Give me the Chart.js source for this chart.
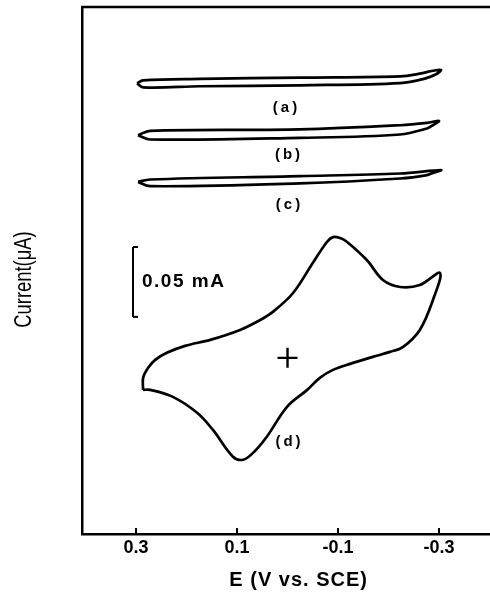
<!DOCTYPE html>
<html><head><meta charset="utf-8">
<script src="https://cdn.jsdelivr.net/npm/chart.js@4/dist/chart.umd.min.js"></script>
<style>html,body{margin:0;padding:0;background:#fff}#wrap{width:490px;height:594px}</style>
</head><body><div id="wrap"><canvas id="c" width="490" height="594"></canvas></div>
<script>
// Potential (V vs. SCE) and current (μA) — curve (d), zero marked by the cross
const potentialD = [0.286,0.286,0.276,0.262,0.239,0.203,0.153,0.094,0.054,0.029,-0.011,-0.050,-0.078,-0.090,-0.104,-0.118,-0.157,-0.189,-0.223,-0.262,-0.302,-0.288,-0.262,-0.229,-0.203,-0.169,-0.124,-0.090,-0.064,-0.039,0.001,0.041,0.068,0.088,0.108,0.148,0.179,0.227,0.272,0.286];
const currentD   = [-22.9,-14.3,-7.1,-1.4,3.6,8.6,12.9,20,27.1,32.9,46.4,67.9,82.9,86.4,85.7,82.9,70,55.7,50.7,52.1,60.7,41.4,20,7.9,4.3,0.7,-4.3,-8.6,-14.3,-22.9,-35,-56.4,-67.9,-72.9,-70.7,-51.4,-39.3,-27.9,-22.9,-22.9];

// Curves (a)-(c): current relative to each trace's own baseline (μA), traces shifted for clarity
const potentialA = [0.298,0.286,0.173,-0.025,-0.223,-0.262,-0.288,-0.304,-0.294,-0.272,-0.223,-0.025,0.173,0.286,0.298];
const currentA   = [0,2.1,3.2,4.1,5.0,6.9,9.0,9.6,6.5,3.4,0.2,-1.4,-2.1,-2.9,0];
const offsetA = 196.4;

const potentialB = [0.296,0.272,-0.025,-0.223,-0.276,-0.300,-0.288,-0.276,-0.223,-0.025,0.272,0.296];
const currentB   = [0,3.1,4.1,7.1,8.8,10.2,7.1,4.8,0.5,-1.9,-3.1,0];
const offsetB = 159.3;

const potentialC = [0.296,0.272,-0.025,-0.223,-0.304,-0.288,-0.276,-0.223,-0.025,0.272,0.296];
const currentC   = [0,1.7,4.1,6.0,8.4,6.4,4.8,2.4,-1.1,-3.1,0];
const offsetC = 125.9;

// Axis ticks and titles
const tickValues = [0.3, 0.1, -0.1, -0.3];
const tickLabels = ['0.3', '0.1', '-0.1', '-0.3'];
const xTitle = 'E (V vs. SCE)';
const yTitle = 'Current(μA)';

// Scale bar: 0.05 mA = 50 μA
const scaleBarLabel = '0.05 mA';
const scaleBarE = 0.306;
const scaleBarFrom = 29.3;
const scaleBarSpan = 50;

// Curve labels, anchored in data coordinates
const curveLabels = ['(a)', '(b)', '(c)', '(d)'];
const curveLabelE = [0.005, 0.0, -0.001, -0.001];
const curveLabelI = [178.6, 145, 109.3, -60];
const xTitleE = -0.022;

function pts(xs, ys, off) { return xs.map((x, i) => ({x: x, y: ys[i] + (off || 0)})); }

const lineStyle = {borderColor: '#000', borderWidth: 2.7, pointRadius: 0, showLine: true, tension: 0.35, fill: false};

const framePlugin = {
  id: 'frameAndLabels',
  afterDraw(chart) {
    const ctx = chart.ctx, a = chart.chartArea, sx = chart.scales.x, sy = chart.scales.y;
    ctx.save();
    ctx.strokeStyle = '#000';
    ctx.lineWidth = 2.5;
    ctx.beginPath();
    ctx.moveTo(a.left - 1, a.top);
    ctx.lineTo(a.right, a.top);
    ctx.stroke();
    ctx.lineWidth = 2;
    tickValues.forEach(v => {
      const px = sx.getPixelForValue(v);
      ctx.beginPath();
      ctx.moveTo(px, a.bottom);
      ctx.lineTo(px, a.bottom - 6);
      ctx.stroke();
    });
    ctx.fillStyle = '#000';
    ctx.textBaseline = 'middle';
    // curve labels
    ctx.font = 'bold 15px "Liberation Sans", Arial, sans-serif';
    ctx.textAlign = 'center';
    try { ctx.letterSpacing = '3px'; } catch (e) {}
    curveLabels.forEach((t, i) => {
      ctx.fillText(t, sx.getPixelForValue(curveLabelE[i]) + 1.5, sy.getPixelForValue(curveLabelI[i]));
    });
    // scale bar label
    try { ctx.letterSpacing = '1.5px'; } catch (e) {}
    ctx.font = 'bold 19px "Liberation Sans", Arial, sans-serif';
    ctx.textAlign = 'left';
    ctx.fillText(scaleBarLabel, sx.getPixelForValue(scaleBarE) + 9, sy.getPixelForValue(scaleBarFrom + scaleBarSpan / 2));
    // x axis title
    try { ctx.letterSpacing = '1px'; } catch (e) {}
    ctx.font = 'bold 20px "Liberation Sans", Arial, sans-serif';
    ctx.textAlign = 'center';
    ctx.fillText(xTitle, sx.getPixelForValue(xTitleE), a.bottom + 46);
    // y axis title (condensed)
    try { ctx.letterSpacing = '0px'; } catch (e) {}
    ctx.save();
    ctx.translate(a.left - 57, (a.top + a.bottom) / 2 + 9);
    ctx.rotate(-Math.PI / 2);
    ctx.scale(0.8, 1);
    ctx.font = '23px "Liberation Sans", Arial, sans-serif';
    ctx.fillText(yTitle, 0, 0);
    ctx.restore();
    ctx.restore();
  }
};

new Chart(document.getElementById('c'), {
  type: 'scatter',
  data: {
    datasets: [
      Object.assign({label: '(a)', data: pts(potentialA, currentA, offsetA)}, lineStyle),
      Object.assign({label: '(b)', data: pts(potentialB, currentB, offsetB)}, lineStyle),
      Object.assign({label: '(c)', data: pts(potentialC, currentC, offsetC)}, lineStyle),
      Object.assign({label: '(d)', data: pts(potentialD, currentD)}, lineStyle),
      {label: 'origin', data: [{x: 0, y: 0}], pointStyle: 'cross', pointRadius: 10, borderWidth: 2.4, borderColor: '#000', showLine: false},
      {label: 'scale', data: [{x: scaleBarE, y: scaleBarFrom}, {x: scaleBarE, y: scaleBarFrom + scaleBarSpan}], showLine: true, borderColor: '#000', borderWidth: 2, pointStyle: 'dash', pointRadius: 5, pointBorderWidth: 2, tension: 0}
    ]
  },
  options: {
    responsive: false, animation: false, devicePixelRatio: 1,
    layout: {autoPadding: false, padding: {top: 7, right: 0, bottom: 0, left: 0}},
    plugins: {legend: {display: false}, tooltip: {enabled: false}},
    scales: {
      x: {
        type: 'linear', reverse: true, min: -0.401, max: 0.407,
        afterBuildTicks: s => { s.ticks = tickValues.map(v => ({value: v})); },
        afterFit: s => { s.height = 60; },
        grid: {display: true, drawOnChartArea: false, drawTicks: false},
        border: {display: true, color: '#000', width: 2.5},
        ticks: {
          callback: v => { const i = tickValues.findIndex(t => Math.abs(t - v) < 1e-9); return i >= 0 ? tickLabels[i] : ''; },
          font: {size: 18, weight: 'bold', family: '"Liberation Sans", Arial, sans-serif'},
          color: '#000', padding: 3, maxRotation: 0, autoSkip: false
        },
        title: {display: false, text: xTitle}
      },
      y: {
        min: -126, max: 251,
        afterFit: s => { s.width = 82; },
        grid: {display: true, drawOnChartArea: false, drawTicks: false},
        border: {display: true, color: '#000', width: 2.5},
        ticks: {display: false},
        title: {display: false, text: yTitle}
      }
    }
  },
  plugins: [framePlugin]
});
</script></body></html>
